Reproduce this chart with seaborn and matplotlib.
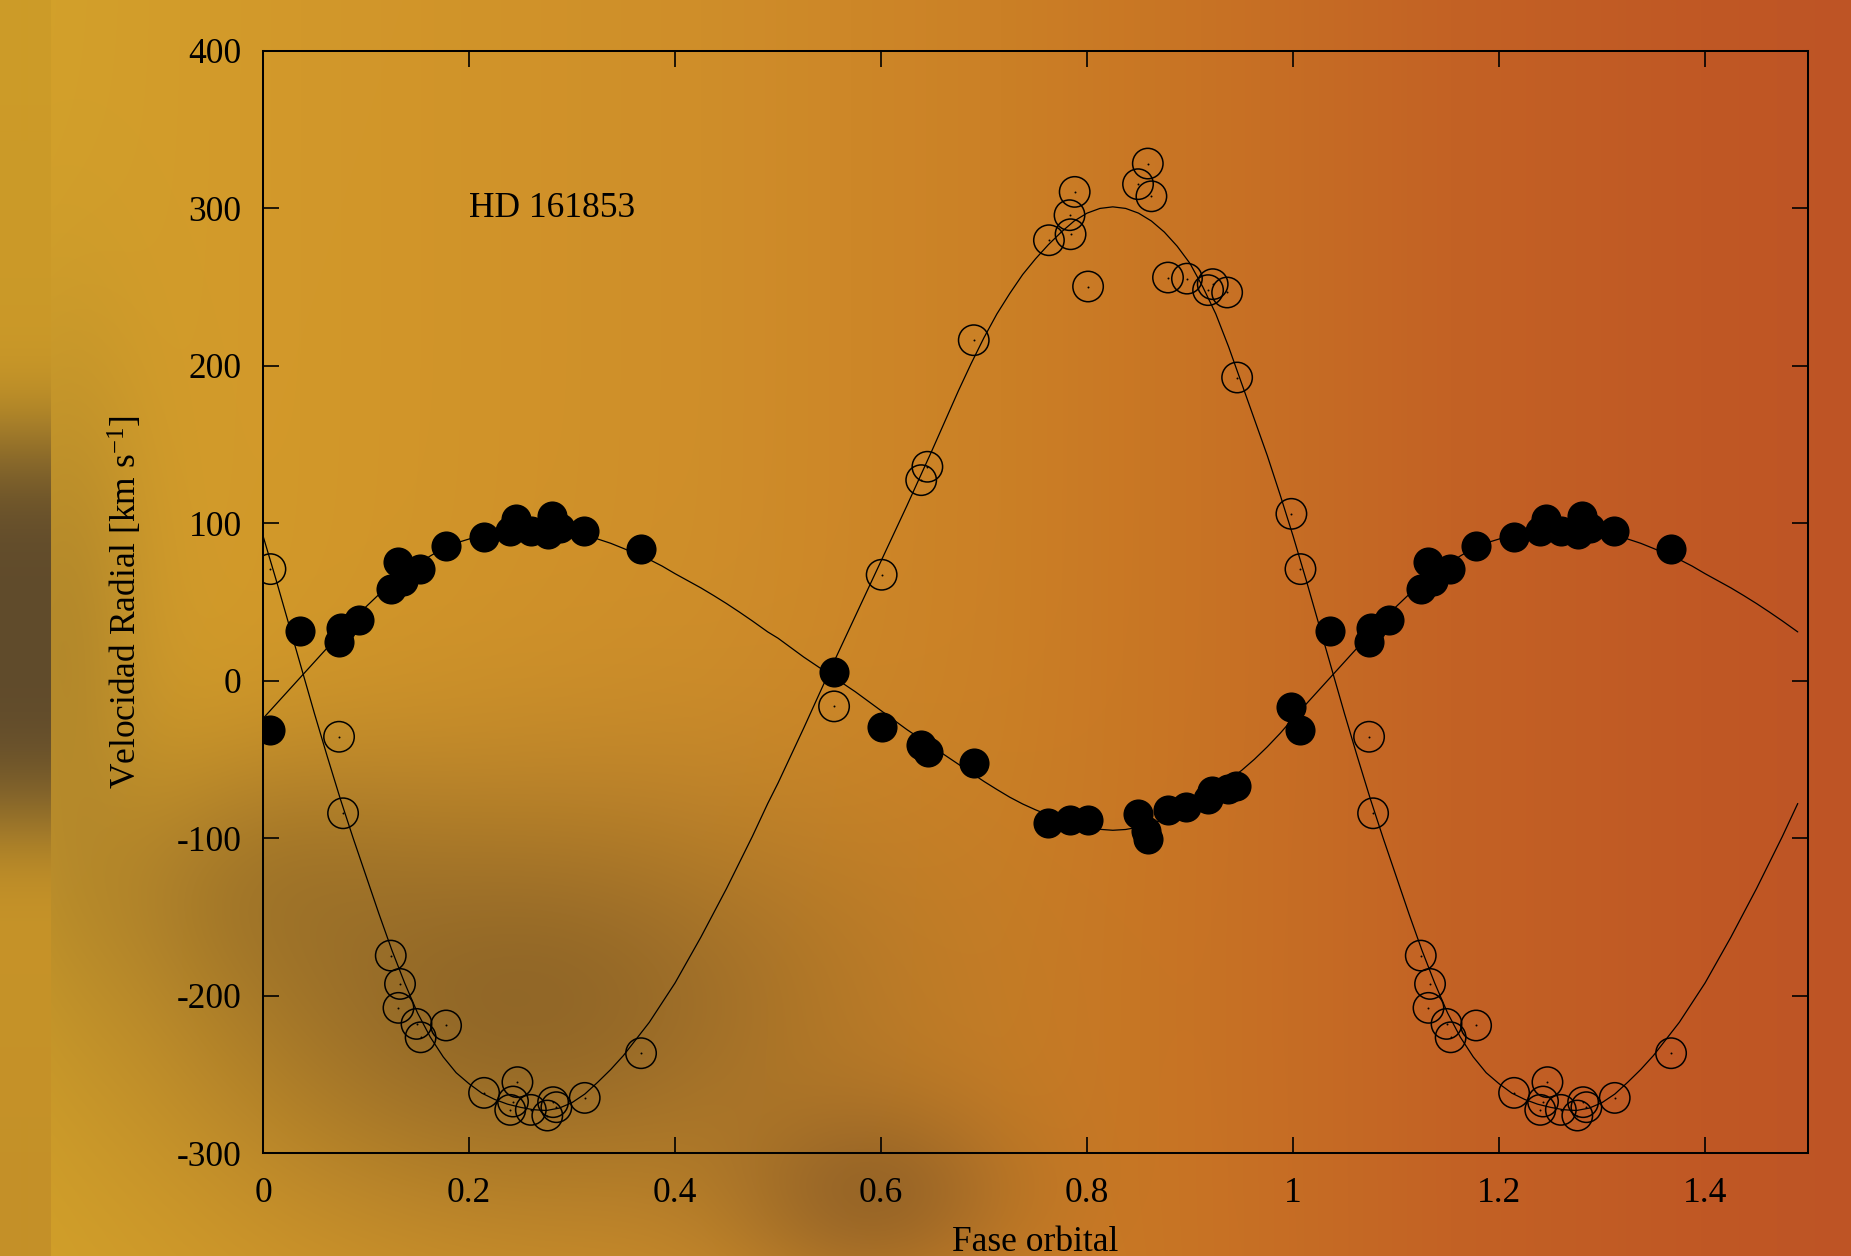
import numpy as np
import pandas as pd
import matplotlib
matplotlib.use("Agg")
import matplotlib.pyplot as plt
import seaborn as sns
from matplotlib.ticker import MultipleLocator, FuncFormatter

# observaciones, un periodo (fase orbital, velocidad radial en km/s)
fase_prim = [0.0072, 0.0356, 0.0738, 0.076, 0.0932, 0.1246, 0.131, 0.136, 0.152,
             0.1774, 0.2143, 0.2395, 0.246, 0.2606, 0.2767, 0.281, 0.288, 0.3117,
             0.3667, 0.5544, 0.601, 0.639, 0.6456, 0.690, 0.762, 0.783, 0.783,
             0.801, 0.849, 0.8577, 0.859, 0.8786, 0.8965, 0.9175, 0.9213, 0.937,
             0.945, 0.9984]
vel_prim = [-31, 31.5, 24.8, 33.4, 38.7, 58.2, 75.1, 63.5, 70.9,
            85.7, 91.6, 95.2, 102.6, 95.2, 93.1, 104.8, 97.3, 95.2,
            83.6, 5.3, -29.6, -40.9, -45.5, -52.3, -90.4, -88.5, -96.7,
            -88.5, -84.7, -95.2, -100.5, -81.9, -80.4, -75.1, -69.8, -68.8,
            -66.7, -16.9]

fase_sec = [0.0072, 0.0738, 0.0777, 0.124, 0.1315, 0.133, 0.149, 0.153, 0.1777,
            0.2146, 0.240, 0.2427, 0.247, 0.26, 0.276, 0.2816, 0.2848, 0.3123,
            0.367, 0.5544, 0.6006, 0.639, 0.645, 0.690, 0.763, 0.783, 0.784,
            0.788, 0.801, 0.8495, 0.859, 0.8625, 0.8786, 0.8786, 0.897, 0.9175,
            0.922, 0.936, 0.9457, 0.9984]
vel_sec = [70.9, -35.6, -84.2, -174.6, -207.8, -192.6, -218, -226.5, -219,
           -261.8, -272.6, -267.3, -255, -272.6, -276.2, -267.7, -270.9, -265,
           -236.6, -16.3, 67.3, 127.4, 135.9, 216.3, 279.8, 295.7, 283.6,
           310.5, 250.4, 315.4, 328.5, 307.7, 256.1, 245.9, 255.4, 248.1,
           251.9, 246.6, 192.6, 106]

# curvas ajustadas
fase_curva_p = [0.0, 0.025, 0.05, 0.075, 0.1,
                0.1125, 0.125, 0.1375, 0.15, 0.1625, 0.175, 0.1875, 0.2,
                0.2125, 0.225, 0.2375, 0.25, 0.2625, 0.275, 0.2875, 0.3,
                0.3125, 0.325, 0.3375, 0.35, 0.3625, 0.375, 0.3875, 0.4,
                0.4125, 0.425, 0.4375, 0.45, 0.4625, 0.475, 0.49, 0.5,
                0.525, 0.55, 0.575, 0.6, 0.625, 0.65, 0.675, 0.7,
                0.7125, 0.725, 0.7375, 0.75, 0.7625, 0.775, 0.7875, 0.8,
                0.8125, 0.825, 0.8375, 0.85, 0.8625, 0.875, 0.8875, 0.9,
                0.9125, 0.925, 0.9375, 0.95, 0.9625, 0.975, 0.9875, 1.0]
curva_prim = [-24, -6, 12, 30, 47,
              54.8, 62, 68.4, 74, 79.3, 84, 87.5, 90,
              92.7, 95, 96.4, 97, 97.3, 97, 95.9, 94,
              92.1, 90, 87.3, 84, 80.6, 77, 72.8, 68,
              63.5, 59, 54.1, 49, 43.6, 38, 31, 27,
              15, 4, -7, -19, -31, -42, -53, -64,
              -69.1, -74, -78.3, -82, -85.3, -88, -90.6, -93,
              -94.4, -95, -94.5, -93, -90.9, -88, -84.4, -80,
              -74.9, -69, -63.1, -57, -49.9, -42, -33.4, -24]

fase_curva_s = [0.0, 0.0125, 0.025, 0.0375, 0.05, 0.0625, 0.075, 0.0875, 0.1,
                0.1125, 0.125, 0.1375, 0.15, 0.1625, 0.175, 0.1875, 0.2,
                0.2125, 0.225, 0.2375, 0.25, 0.2625, 0.275, 0.2875, 0.3,
                0.3125, 0.325, 0.3375, 0.35, 0.375, 0.4, 0.425, 0.45, 0.475,
                0.49, 0.5, 0.525, 0.55, 0.575, 0.6, 0.625, 0.65, 0.675,
                0.6875, 0.7, 0.7125, 0.725, 0.7375, 0.75, 0.7625, 0.775,
                0.7875, 0.8, 0.8125, 0.825, 0.8375, 0.85, 0.8625, 0.875,
                0.8875, 0.9, 0.9125, 0.925, 0.9375, 0.95, 0.9625, 0.975,
                0.9875, 1.0]
curva_sec = [92, 64.5, 36, 7.5, -21, -48.4, -75, -100, -124,
             -148, -171, -192, -211, -226.5, -239, -249, -256,
             -262, -266, -269, -271, -272.5, -273, -271.5, -268,
             -262.5, -255, -247, -238, -217, -192, -163, -132, -99,
             -78, -65, -30, 6, 41, 76, 111, 147, 184,
             201.5, 218, 233, 246, 258, 268, 277, 285,
             292, 297, 300, 301, 300, 297, 292, 285,
             276, 265, 250, 233, 212, 189, 166, 143,
             118, 92]

FASE_MAX = 1.5
FIN_CURVA = 1.49


def dos_ciclos(fase, vel, limite):
    fase = np.asarray(fase, float)
    vel = np.asarray(vel, float)
    m = fase + 1 <= limite + 1e-9
    df = pd.DataFrame({"fase": np.concatenate([fase, fase[m] + 1]),
                       "vel": np.concatenate([vel, vel[m]])})
    return df.drop_duplicates("fase").sort_values("fase")


obs_p = dos_ciclos(fase_prim, vel_prim, FASE_MAX)
obs_s = dos_ciclos(fase_sec, vel_sec, FASE_MAX)
cur_p = dos_ciclos(fase_curva_p, curva_prim, FIN_CURVA)
cur_s = dos_ciclos(fase_curva_s, curva_sec, FIN_CURVA)

# fondo difuminado
H, W = 1256, 1851
yy, xx = np.mgrid[0:H, 0:W].astype(float)
sx_ = [0, 300, 700, 1000, 1200, 1450, 1700, 1851]
sc_ = np.array([[211, 162, 42], [210, 152, 42], [207, 142, 42], [203, 128, 38],
                [200, 115, 36], [195, 98, 36], [192, 88, 36], [190, 84, 38]]) / 255
fondo = np.stack([np.interp(xx, sx_, sc_[:, k]) for k in range(3)], axis=-1)


def mancha(img, cx, cy, sx, sy, amp, col):
    a = amp * np.exp(-0.5 * (((xx - cx) / sx) ** 2 + ((yy - cy) / sy) ** 2))
    return img * (1 - a[..., None]) + np.array(col) / 255 * a[..., None]


fondo = mancha(fondo, 520, 1000, 240, 150, 0.6, (105, 75, 38))
fondo = mancha(fondo, 870, 1195, 100, 70, 0.5, (110, 75, 38))
fondo = mancha(fondo, 260, 880, 120, 90, 0.3, (110, 80, 40))
fondo = mancha(fondo, 60, 640, 60, 200, 0.3, (110, 85, 45))

franja = xx < 51
base = np.stack([np.interp(yy, [0, 1256], [c0, c1]) for c0, c1 in
                 zip((205, 156, 40), (196, 144, 40))], axis=-1) / 255
a = 0.85 * np.exp(-0.5 * ((yy - 630) / 170) ** 4)
tira = base * (1 - a[..., None]) + np.array([78, 62, 44]) / 255 * a[..., None]
fondo[franja] = tira[franja]
fondo = np.clip(fondo, 0, 1)

sns.set_theme(style="ticks")
plt.rcParams["font.family"] = ["Liberation Serif", "DejaVu Serif"]
plt.rcParams["mathtext.fontset"] = "custom"
plt.rcParams["mathtext.rm"] = "Liberation Serif"
plt.rcParams["mathtext.it"] = "Liberation Serif:italic"
plt.rcParams["axes.unicode_minus"] = False
plt.rcParams["text.color"] = "black"
plt.rcParams["axes.labelcolor"] = "black"

fig = plt.figure(figsize=(18.51, 12.56), dpi=100)
bg = fig.add_axes([0, 0, 1, 1])
bg.imshow(fondo, aspect="auto", extent=(0, 1, 0, 1), interpolation="bilinear")
bg.axis("off")

ax = fig.add_axes([0.1421, 0.0820, 0.8347, 0.8774])
ax.set_facecolor("none")

sns.lineplot(data=cur_p, x="fase", y="vel", ax=ax, sort=False, estimator=None,
             color="black", lw=0.9)
sns.lineplot(data=cur_s, x="fase", y="vel", ax=ax, sort=False, estimator=None,
             color="black", lw=0.9)

sns.scatterplot(data=obs_s, x="fase", y="vel", ax=ax, s=480, color="black",
                linewidth=1.1, zorder=3, legend=False)
abiertos = ax.collections[-1]
abiertos.set_facecolor("none")
abiertos.set_edgecolor("black")
sns.scatterplot(data=obs_s, x="fase", y="vel", ax=ax, s=2, color="black",
                linewidth=0, zorder=3, legend=False)
sns.scatterplot(data=obs_p, x="fase", y="vel", ax=ax, s=470, color="black",
                linewidth=0, zorder=4, legend=False)

ax.set_xlim(0, FASE_MAX)
ax.set_ylim(-300, 400)
ax.xaxis.set_major_locator(MultipleLocator(0.2))
ax.yaxis.set_major_locator(MultipleLocator(100))
ax.xaxis.set_major_formatter(FuncFormatter(lambda v, p: f"{v:g}"))
ax.yaxis.set_major_formatter(FuncFormatter(lambda v, p: f"{v:g}"))
ax.tick_params(direction="in", length=11.3, width=1.2, top=True, right=True,
               labelsize=25.5, colors="black")
ax.tick_params(axis="x", pad=17)
ax.tick_params(axis="y", pad=15.3)
for sp in ax.spines.values():
    sp.set_linewidth(1.45)
    sp.set_color("black")

ax.set_xlabel("Fase orbital", fontsize=25.5, color="black")
ax.xaxis.set_label_coords(0.5, -0.0889)
ax.xaxis.label.set_va("baseline")
ax.set_ylabel(r"Velocidad Radial [km s$^{-1}$]", fontsize=25.5, color="black")
ax.yaxis.set_label_coords(-0.0887, 0.5)
ax.yaxis.label.set_va("center")

ax.text(0.2, 300, "HD 161853", fontsize=25.5, va="center", ha="left",
        color="black")

fig.savefig("out.png", dpi=100)
